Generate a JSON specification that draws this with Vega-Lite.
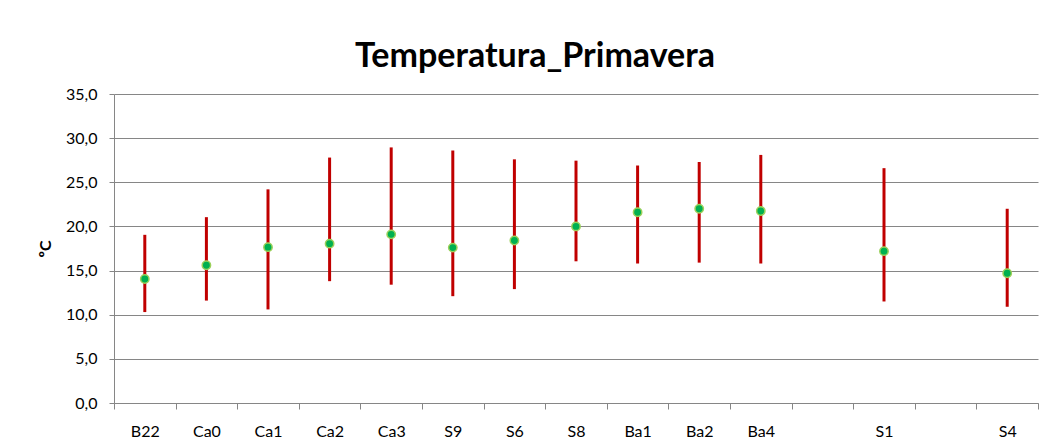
{
  "$schema": "https://vega.github.io/schema/vega-lite/v6.json",
  "autosize": {"type": "none"},
  "width": 924,
  "height": 309,
  "padding": {"left": 114, "top": 94, "right": 10, "bottom": 44},
  "background": "white",
  "title": {
    "text": "Temperatura_Primavera",
    "font": "Lato",
    "fontSize": 34,
    "fontWeight": "bold",
    "color": "#000000",
    "anchor": "middle",
    "dx": -41,
    "offset": 12
  },
  "config": {
    "view": {"stroke": null},
    "font": "Lato"
  },
  "data": {
    "values": [
      {"site": "B22", "min": 10.3, "max": 19.05, "mean": 14.05},
      {"site": "Ca0", "min": 11.6, "max": 21.05, "mean": 15.6},
      {"site": "Ca1", "min": 10.6, "max": 24.2, "mean": 17.65},
      {"site": "Ca2", "min": 13.8, "max": 27.8, "mean": 18.05},
      {"site": "Ca3", "min": 13.4, "max": 28.95, "mean": 19.1},
      {"site": "S9", "min": 12.1, "max": 28.6, "mean": 17.6},
      {"site": "S6", "min": 12.9, "max": 27.6, "mean": 18.4},
      {"site": "S8", "min": 16.05, "max": 27.45, "mean": 20.0},
      {"site": "Ba1", "min": 15.8, "max": 26.9, "mean": 21.6},
      {"site": "Ba2", "min": 15.9, "max": 27.3, "mean": 22.0},
      {"site": "Ba4", "min": 15.8, "max": 28.1, "mean": 21.75},
      {"site": "S1", "min": 11.5, "max": 26.6, "mean": 17.2},
      {"site": "S4", "min": 10.9, "max": 22.0, "mean": 14.7}
    ]
  },
  "encoding": {
    "x": {
      "field": "site",
      "type": "nominal",
      "sort": null,
      "scale": {
        "domain": ["B22", "Ca0", "Ca1", "Ca2", "Ca3", "S9", "S6", "S8", "Ba1", "Ba2", "Ba4", " ", "S1", "  ", "S4"],
        "paddingInner": 0,
        "paddingOuter": 0
      },
      "axis": {
        "title": null,
        "labelAngle": 0,
        "tickBand": "extent",
        "tickSize": 6,
        "tickColor": "#868686",
        "domainColor": "#868686",
        "labelFont": "Lato",
        "labelFontSize": 16,
        "labelColor": "#000000",
        "labelPadding": 14,
        "grid": false
      }
    }
  },
  "layer": [
    {
      "mark": {"type": "rule", "color": "#C00000", "strokeWidth": 3},
      "encoding": {
        "y": {
          "field": "min",
          "type": "quantitative",
          "scale": {"domain": [0, 35], "nice": false},
          "axis": {
            "title": "ºC",
            "titleFont": "Lato",
            "titleFontSize": 16,
            "titleFontWeight": "bold",
            "titleColor": "#000000",
            "titlePadding": 12,
            "values": [0, 5, 10, 15, 20, 25, 30, 35],
            "labelExpr": "replace(format(datum.value, '.1f'), '.', ',')",
            "labelFont": "Lato",
            "labelFontSize": 16,
            "labelColor": "#000000",
            "labelPadding": 12,
            "tickSize": 5,
            "tickColor": "#868686",
            "domainColor": "#868686",
            "grid": true,
            "gridColor": "#868686",
            "gridWidth": 1
          }
        },
        "y2": {"field": "max"}
      }
    },
    {
      "mark": {"type": "point", "filled": true, "shape": "circle", "size": 70, "color": "#00B050", "stroke": "#9BD05A", "strokeWidth": 1.5, "opacity": 1},
      "encoding": {
        "y": {"field": "mean", "type": "quantitative"}
      }
    }
  ]
}
